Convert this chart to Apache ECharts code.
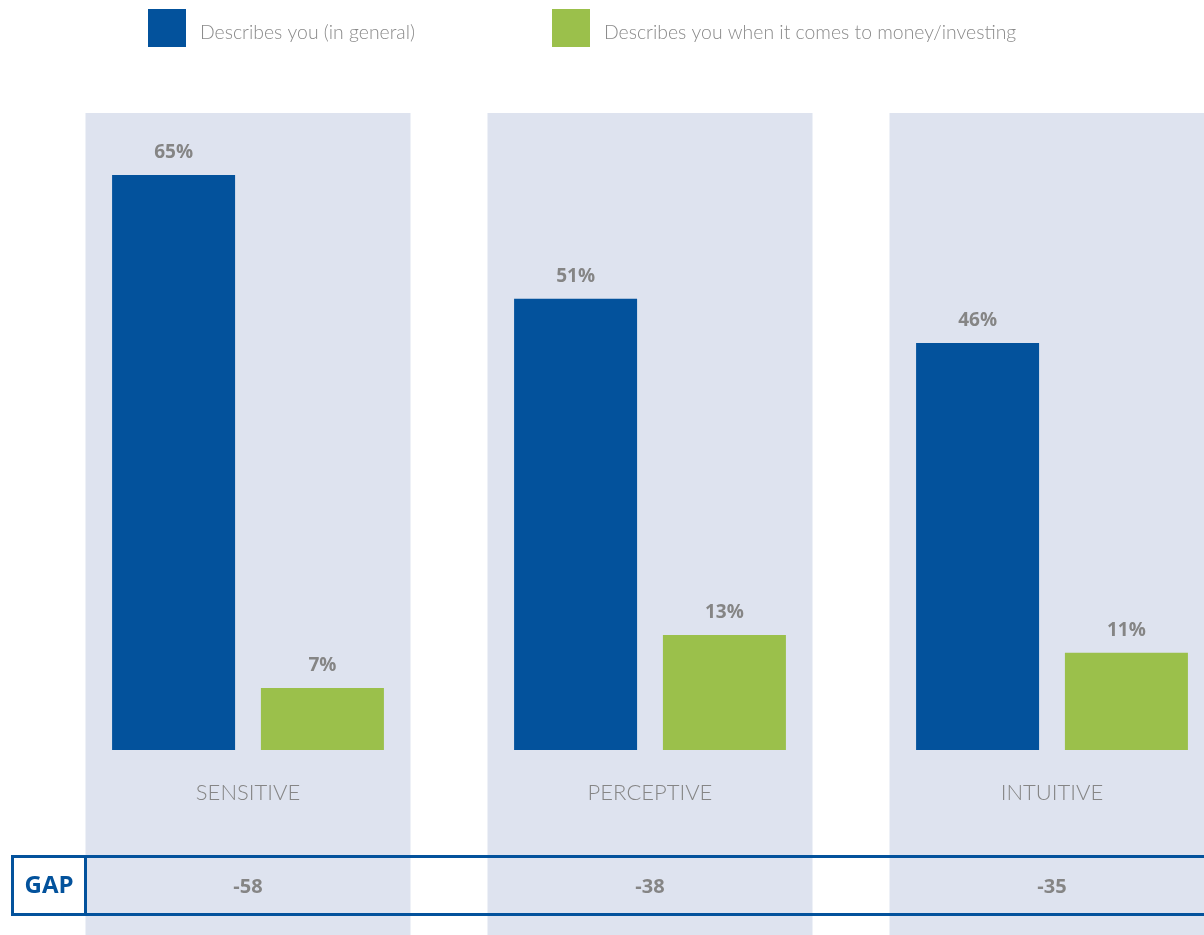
<!DOCTYPE html>
<html>
<head>
<meta charset="utf-8">
<script src="https://cdn.jsdelivr.net/npm/echarts@6/dist/echarts.min.js"></script>
<style>
  html, body { margin: 0; padding: 0; background: #ffffff; }
  #chart { width: 1204px; height: 935px; }
</style>
</head>
<body>
<div id="chart"></div>
<script>
// Survey traits: share describing themselves in general vs. with money/investing
const categories = ['SENSITIVE', 'PERCEPTIVE', 'INTUITIVE'];
const seriesNames = ['Describes you (in general)', 'Describes you when it comes to money/investing'];
const generalValues = [65, 51, 46];
const moneyValues = [7, 13, 11];
const gapValues = [-58, -38, -35];

const BLUE = '#03529c';
const GREEN = '#9bc04b';
const PANEL = '#dee3ef';
const GRAY = '#858585';
const LIGHT_FONT = 'Lato, "Open Sans", sans-serif';
const BOLD_FONT = '"Open Sans", Lato, sans-serif';

const chart = echarts.init(document.getElementById('chart'), null, { renderer: 'canvas' });

// Background panel per category plus the gap value in the bottom row
function renderPanel(params, api) {
  const idx = api.value(0);
  const center = api.coord([idx, 0]);
  const band = api.size([1, 0])[0];
  const panelW = band - 77;
  const h = api.getHeight();
  return {
    type: 'group',
    children: [
      {
        type: 'rect',
        shape: { x: center[0] - panelW / 2, y: 113, width: panelW, height: h - 113 },
        style: { fill: PANEL }
      },
      {
        type: 'text',
        style: {
          x: center[0], y: 887,
          text: String(gapValues[idx]),
          align: 'center', verticalAlign: 'middle',
          font: 'bold 20px ' + BOLD_FONT,
          fill: GRAY
        }
      }
    ]
  };
}

const legendBase = {
  top: 9,
  padding: 0,
  orient: 'horizontal',
  icon: 'rect',
  itemWidth: 38,
  itemHeight: 38,
  selectedMode: false,
  formatter: '{t|{name}}',
  textStyle: {
    rich: {
      t: { fontFamily: LIGHT_FONT, fontWeight: 300, fontSize: 19.4, color: '#8a8a8a', padding: [9, 0, 0, 9] }
    }
  }
};

chart.setOption({
  animation: false,
  legend: [
    Object.assign({}, legendBase, { left: 148, data: [seriesNames[0]] }),
    Object.assign({}, legendBase, { left: 552, data: [seriesNames[1]] })
  ],
  // the last band runs past the right edge of the canvas
  grid: { left: 47, width: 1206, top: 113, bottom: 185, containLabel: false, outerBoundsMode: 'none' },
  xAxis: {
    type: 'category',
    data: categories,
    axisLine: { show: false },
    axisTick: { show: false },
    axisLabel: {
      margin: 32,
      fontFamily: LIGHT_FONT,
      fontWeight: 300,
      fontSize: 22,
      color: '#858585'
    }
  },
  yAxis: {
    type: 'value',
    min: 0,
    max: 72,
    show: false,
    splitLine: { show: false }
  },
  graphic: [
    {
      type: 'rect', z: 100,
      shape: { x: 12.5, y: 856.5, width: 1300, height: 58 },
      style: { fill: null, stroke: BLUE, lineWidth: 3 }
    },
    {
      type: 'line', z: 100,
      shape: { x1: 85.5, y1: 856.5, x2: 85.5, y2: 914.5 },
      style: { stroke: BLUE, lineWidth: 3 }
    },
    {
      type: 'text', z: 100,
      style: {
        x: 49, y: 886, text: 'GAP',
        align: 'center', verticalAlign: 'middle',
        font: 'bold 24px ' + BOLD_FONT,
        fill: BLUE
      }
    }
  ],
  series: [
    {
      type: 'custom',
      name: 'panels',
      z: 0,
      silent: true,
      clip: false,
      renderItem: renderPanel,
      data: categories.map((c, i) => [i]),
      encode: { x: 0 }
    },
    {
      type: 'bar',
      name: seriesNames[0],
      data: generalValues,
      barWidth: 123,
      barGap: '21%',
      itemStyle: { color: BLUE },
      label: {
        show: true, position: 'top', distance: 13,
        formatter: '{c}%',
        fontFamily: BOLD_FONT, fontWeight: 'bold', fontSize: 19, color: GRAY
      }
    },
    {
      type: 'bar',
      name: seriesNames[1],
      data: moneyValues,
      barWidth: 123,
      barGap: '21%',
      itemStyle: { color: GREEN },
      label: {
        show: true, position: 'top', distance: 13,
        formatter: '{c}%',
        fontFamily: BOLD_FONT, fontWeight: 'bold', fontSize: 19, color: GRAY
      }
    }
  ]
});
</script>
</body>
</html>
